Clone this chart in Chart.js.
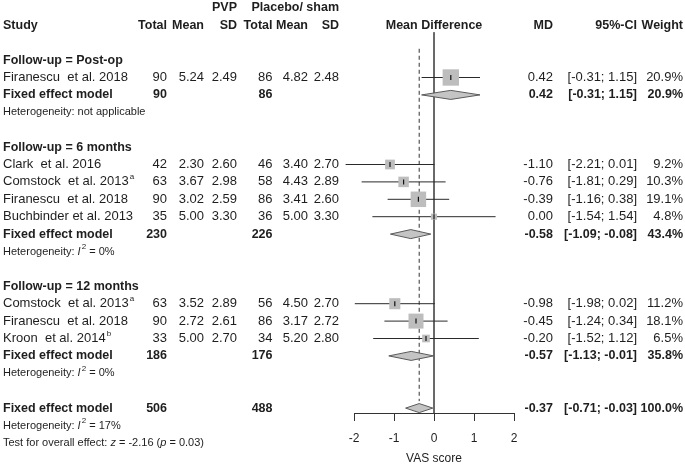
<!DOCTYPE html>
<html>
<head>
<meta charset="utf-8">
<script src="https://cdn.jsdelivr.net/npm/chart.js@4.4.1/dist/chart.umd.min.js"></script>
<style>
    html, body { margin: 0; padding: 0; background: #fff; }
    canvas { display: block; }
</style>
</head>
<body>
<canvas id="forest" width="685" height="464"></canvas>
<script>
// subgroups
const groups = ['Follow-up = Post-op', 'Follow-up = 6 months', 'Follow-up = 12 months'];

// studies
const studies = ['Firanescu  et al. 2018', 'Clark  et al. 2016', 'Comstock  et al. 2013', 'Firanescu  et al. 2018',
    'Buchbinder et al. 2013', 'Comstock  et al. 2013', 'Firanescu  et al. 2018', 'Kroon  et al. 2014'];
const notes = ['', '', 'a', '', '', 'a', '', 'b'];
const studyGroup = [0, 1, 1, 1, 1, 2, 2, 2];

const pvpTotal = [90, 42, 63, 90, 35, 63, 90, 33];
const pvpMean = [5.24, 2.30, 3.67, 3.02, 5.00, 3.52, 2.72, 5.00];
const pvpSD = [2.49, 2.60, 2.98, 2.59, 3.30, 2.89, 2.61, 2.70];
const shamTotal = [86, 46, 58, 86, 36, 56, 86, 34];
const shamMean = [4.82, 3.40, 4.43, 3.41, 5.00, 4.50, 3.17, 5.20];
const shamSD = [2.48, 2.70, 2.89, 2.60, 3.30, 2.70, 2.72, 2.80];

const md = [0.42, -1.10, -0.76, -0.39, 0.00, -0.98, -0.45, -0.20];
const ciLow = [-0.31, -2.21, -1.81, -1.16, -1.54, -1.98, -1.24, -1.52];
const ciHigh = [1.15, 0.01, 0.29, 0.38, 1.54, 0.02, 0.34, 1.12];
const weight = [20.9, 9.2, 10.3, 19.1, 4.8, 11.2, 18.1, 6.5];

// fixed effect models: 3 subgroups + overall
const poolPvpTotal = [90, 230, 186, 506];
const poolShamTotal = [86, 226, 176, 488];
const poolMd = [0.42, -0.58, -0.57, -0.37];
const poolLow = [-0.31, -1.09, -1.13, -0.71];
const poolHigh = [1.15, -0.08, -0.01, -0.03];
const poolWeight = [20.9, 43.4, 35.8, 100.0];
const hetI2 = [null, 0, 0, 17];

const testZ = -2.16;
const testP = 0.03;

const xTicks = [-2, -1, 0, 1, 2];
const xTitle = 'VAS score';

// row layout
const studyRow = [];
const groupRow = [];
const poolRow = [];
const hetRow = [];
let r = 2;
groups.forEach((g, gi) => {
    groupRow[gi] = r++;
    studies.forEach((s, i) => {
        if (studyGroup[i] === gi) studyRow[i] = r++;
    });
    poolRow[gi] = r++;
    hetRow[gi] = r++;
    r++;
});
poolRow[3] = r;
hetRow[3] = r + 1;
const testRow = r + 2;

const rowPx = 17.4;
const yMin = -25.3 / rowPx;
const yMax = yMin + 413 / rowPx;

const FAM = '"Liberation Sans", Arial, sans-serif';
const F_PLAIN = '13px ' + FAM;
const F_BOLD = 'bold 12.5px ' + FAM;
const F_SMALL = '11px ' + FAM;
const TXT = '#1e1e1e';

const col = { study: 3, pvpN: 167, pvpM: 204, pvpS: 237, shamN: 272.5, shamM: 308, shamS: 339, md: 553, ci: 637, w: 683 };

function squareRadius(w) {
    const side = 4.3 * Math.sqrt(w) - 3.3;
    return side / Math.SQRT2;
}

function ciText(lo, hi) {
    return '[' + lo.toFixed(2) + '; ' + hi.toFixed(2) + ']';
}

function text(ctx, s, x, y, align, font) {
    ctx.font = font;
    ctx.textAlign = align;
    ctx.fillText(s, x, y);
}

function drawHet(ctx, x, y, value) {
    ctx.textAlign = 'left';
    ctx.font = F_SMALL;
    const head = 'Heterogeneity: ';
    if (value === null) {
        ctx.fillText(head + 'not applicable', x, y);
        return;
    }
    ctx.fillText(head, x, y);
    x += ctx.measureText(head).width;
    ctx.font = 'italic ' + F_SMALL;
    ctx.fillText('I', x, y);
    x += ctx.measureText('I').width + 1;
    ctx.font = '8px ' + FAM;
    ctx.fillText('2', x, y - 5);
    x += ctx.measureText('2').width;
    ctx.font = F_SMALL;
    ctx.fillText(' = ' + value + '%', x, y);
}

function drawTest(ctx, x, y) {
    const parts = [['Test for overall effect: ', false], ['z', true], [' = ' + testZ.toFixed(2) + ' (', false],
        ['p', true], [' = ' + testP.toFixed(2) + ')', false]];
    ctx.textAlign = 'left';
    parts.forEach(p => {
        ctx.font = (p[1] ? 'italic ' : '') + F_SMALL;
        ctx.fillText(p[0], x, y);
        x += ctx.measureText(p[0]).width;
    });
}

const tablePlugin = {
    id: 'tabela',
    afterDraw(chart) {
        const ctx = chart.ctx;
        const ys = chart.scales.y;
        const xs = chart.scales.x;
        const py = row => ys.getPixelForValue(row);
        ctx.save();
        ctx.fillStyle = TXT;
        ctx.textBaseline = 'middle';

        // headers
        text(ctx, 'PVP', col.pvpS, py(-1), 'right', F_BOLD);
        text(ctx, 'Placebo/ sham', col.shamS, py(-1), 'right', F_BOLD);
        text(ctx, 'Study', col.study, py(0), 'left', F_BOLD);
        text(ctx, 'Total', col.pvpN, py(0), 'right', F_BOLD);
        text(ctx, 'Mean', col.pvpM, py(0), 'right', F_BOLD);
        text(ctx, 'SD', col.pvpS, py(0), 'right', F_BOLD);
        text(ctx, 'Total', col.shamN, py(0), 'right', F_BOLD);
        text(ctx, 'Mean', col.shamM, py(0), 'right', F_BOLD);
        text(ctx, 'SD', col.shamS, py(0), 'right', F_BOLD);
        text(ctx, 'Mean Difference', xs.getPixelForValue(0), py(0), 'center', F_BOLD);
        text(ctx, 'MD', col.md, py(0), 'right', F_BOLD);
        text(ctx, '95%-CI', col.ci, py(0), 'right', F_BOLD);
        text(ctx, 'Weight', col.w, py(0), 'right', F_BOLD);

        groups.forEach((g, gi) => {
            text(ctx, g, col.study, py(groupRow[gi]), 'left', F_BOLD);
        });

        studies.forEach((s, i) => {
            const y = py(studyRow[i]);
            text(ctx, s, col.study, y, 'left', F_PLAIN);
            if (notes[i]) {
                const wName = ctx.measureText(s).width;
                text(ctx, notes[i], col.study + wName + 1, y - 5, 'left', '8px ' + FAM);
            }
            text(ctx, String(pvpTotal[i]), col.pvpN, y, 'right', F_PLAIN);
            text(ctx, pvpMean[i].toFixed(2), col.pvpM, y, 'right', F_PLAIN);
            text(ctx, pvpSD[i].toFixed(2), col.pvpS, y, 'right', F_PLAIN);
            text(ctx, String(shamTotal[i]), col.shamN, y, 'right', F_PLAIN);
            text(ctx, shamMean[i].toFixed(2), col.shamM, y, 'right', F_PLAIN);
            text(ctx, shamSD[i].toFixed(2), col.shamS, y, 'right', F_PLAIN);
            text(ctx, md[i].toFixed(2), col.md, y, 'right', F_PLAIN);
            text(ctx, ciText(ciLow[i], ciHigh[i]), col.ci, y, 'right', F_PLAIN);
            text(ctx, weight[i].toFixed(1) + '%', col.w, y, 'right', F_PLAIN);
        });

        poolMd.forEach((m, k) => {
            const y = py(poolRow[k]);
            text(ctx, 'Fixed effect model', col.study, y, 'left', F_BOLD);
            text(ctx, String(poolPvpTotal[k]), col.pvpN, y, 'right', F_BOLD);
            text(ctx, String(poolShamTotal[k]), col.shamN, y, 'right', F_BOLD);
            text(ctx, m.toFixed(2), col.md, y, 'right', F_BOLD);
            text(ctx, ciText(poolLow[k], poolHigh[k]), col.ci, y, 'right', F_BOLD);
            text(ctx, poolWeight[k].toFixed(1) + '%', col.w, y, 'right', F_BOLD);
            drawHet(ctx, col.study, py(hetRow[k]), hetI2[k]);
        });
        drawTest(ctx, col.study, py(testRow));
        ctx.restore();
    }
};

function lineSet(points, color, dash, order) {
    return {
        type: 'line',
        data: points,
        borderColor: color,
        borderWidth: 1,
        borderDash: dash || [],
        pointRadius: 0,
        fill: false,
        tension: 0,
        clip: false,
        order: order
    };
}

const datasets = [];
// zero line and overall effect line
datasets.push(lineSet([{ x: 0, y: 0.4 }, { x: 0, y: yMax }], '#555', null, 10));
datasets.push(lineSet([{ x: poolMd[3], y: 1.35 }, { x: poolMd[3], y: poolRow[3] - 0.4 }], '#333', [4, 3], 10));

// confidence intervals
studies.forEach((s, i) => {
    datasets.push(lineSet([{ x: ciLow[i], y: studyRow[i] }, { x: ciHigh[i], y: studyRow[i] }], '#2a2a2a', null, 8));
});

// squares
datasets.push({
    type: 'scatter',
    data: md.map((m, i) => ({ x: m, y: studyRow[i] })),
    pointStyle: 'rect',
    pointRadius: weight.map(squareRadius),
    backgroundColor: '#bdbdbd',
    borderWidth: 0,
    clip: false,
    order: 6
});

// point estimate ticks
datasets.push({
    type: 'scatter',
    data: md.map((m, i) => ({ x: m, y: studyRow[i] })),
    pointStyle: 'line',
    pointRotation: 90,
    pointRadius: 2.5,
    borderColor: '#111',
    borderWidth: 1.2,
    clip: false,
    order: 4
});

// diamonds
poolMd.forEach((m, k) => {
    const y = poolRow[k];
    const d = lineSet([{ x: poolLow[k], y: y }, { x: m, y: y - 0.26 }, { x: poolHigh[k], y: y },
        { x: m, y: y + 0.26 }, { x: poolLow[k], y: y }], '#5a5a5a', null, 2);
    d.fill = 'shape';
    d.backgroundColor = '#c4c4c4';
    datasets.push(d);
});

const ctx = document.getElementById('forest').getContext('2d');
const grafico = new Chart(ctx, {
    type: 'scatter',
    data: { datasets: datasets },
    plugins: [tablePlugin],
    options: {
        responsive: false,
        animation: false,
        devicePixelRatio: 1,
        layout: { autoPadding: false, padding: { left: 354, right: 171, top: 0, bottom: 0 } },
        plugins: { legend: { display: false }, tooltip: { enabled: false } },
        scales: {
            x: {
                type: 'linear',
                min: -2,
                max: 2,
                afterBuildTicks: scale => { scale.ticks = xTicks.map(v => ({ value: v })); },
                afterFit: scale => { scale.height = 51; },
                ticks: { color: TXT, font: { family: FAM, size: 12 }, padding: 10 },
                grid: { drawOnChartArea: false, drawTicks: true, tickLength: 8, tickColor: '#333', tickWidth: 1 },
                border: { display: true, color: '#333', width: 1 },
                title: { display: true, text: xTitle, color: TXT, font: { family: FAM, size: 12 }, padding: { top: 0, bottom: -2 } }
            },
            y: {
                type: 'linear',
                display: false,
                reverse: true,
                min: yMin,
                max: yMax
            }
        }
    }
});
</script>
</body>
</html>
